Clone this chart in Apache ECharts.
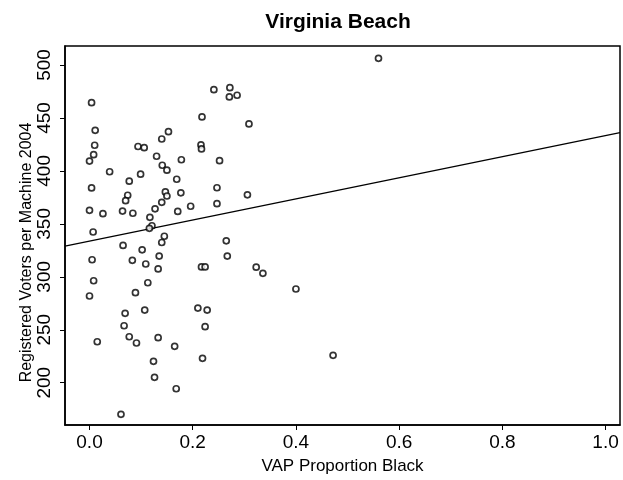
<!DOCTYPE html>
<html>
<head>
<meta charset="utf-8">
<title>Virginia Beach</title>
<script src="https://cdn.jsdelivr.net/npm/echarts@6/dist/echarts.min.js"></script>
<style>
  html, body { margin: 0; padding: 0; background: #ffffff; }
  #chart { width: 623px; height: 480px; }
</style>
</head>
<body>
<div id="chart"></div>
<script>
// Precinct data: share of voting-age population that is Black, and registered voters per machine (2004)
const vapBlack = [
  0.004, 0.011, 0.010, 0.008, 0.000, 0.039, 0.004, 0.000, 0.026, 0.007,
  0.094, 0.106, 0.077, 0.099, 0.074, 0.070, 0.064, 0.084, 0.140, 0.153,
  0.130, 0.141, 0.150, 0.178, 0.169, 0.147, 0.150, 0.140, 0.127, 0.117,
  0.121, 0.116, 0.145, 0.177, 0.171, 0.196, 0.218, 0.216, 0.217, 0.241,
  0.272, 0.271, 0.286, 0.309, 0.252, 0.247, 0.247, 0.306, 0.265, 0.560,
  0.140, 0.065, 0.102, 0.005, 0.083, 0.135, 0.109, 0.133, 0.267, 0.217,
  0.224, 0.323, 0.008, 0.113, 0.000, 0.089, 0.069, 0.107, 0.210, 0.228,
  0.067, 0.224, 0.015, 0.077, 0.091, 0.133, 0.165, 0.219, 0.124, 0.126,
  0.168, 0.061, 0.336, 0.400, 0.472
];
const votersPerMachine = [
  464.4, 438.3, 424.2, 415.3, 409.3, 399.2, 383.9, 362.8, 359.6, 342.3,
  423.0, 421.9, 390.3, 396.9, 377.0, 371.9, 362.1, 360.0, 430.1, 437.0,
  413.8, 405.3, 400.7, 410.5, 392.1, 380.1, 376.3, 370.3, 364.2, 356.2,
  348.2, 345.8, 338.3, 379.3, 361.7, 366.6, 450.9, 424.5, 420.7, 476.7,
  478.6, 469.8, 471.4, 444.3, 409.6, 384.1, 369.0, 377.4, 334.0, 506.3,
  332.4, 329.6, 325.5, 316.1, 315.6, 319.6, 312.1, 307.4, 319.6, 309.3,
  309.3, 309.1, 296.3, 294.4, 281.9, 285.0, 265.5, 268.6, 270.5, 268.6,
  253.8, 252.9, 238.7, 243.4, 237.5, 242.5, 234.4, 223.0, 220.2, 205.1,
  194.3, 170.2, 303.3, 288.5, 225.9
];

// Least-squares fit drawn across the plot
const fitIntercept = 333.8;
const fitSlope = 99.5;

const xTicks = [0, 0.2, 0.4, 0.6, 0.8, 1.0];
const yTicks = [200, 250, 300, 350, 400, 450, 500];

const xMin = -0.0475, xMax = 1.028;
const yMin = 160.1, yMax = 517.9;

const FONT = '"Liberation Sans", Arial, Helvetica, sans-serif';

const points = vapBlack.map((x, i) => [x, votersPerMachine[i]]);
const fitLine = [xMin, xMax].map(x => [x, fitIntercept + fitSlope * x]);

const chart = echarts.init(document.getElementById('chart'), null, { renderer: 'canvas' });

chart.setOption({
  animation: false,
  backgroundColor: '#ffffff',
  graphic: [{
    type: 'text',
    x: 338,
    y: 22,
    style: {
      text: 'Virginia Beach',
      font: 'bold 21px ' + FONT,
      fill: '#000',
      textAlign: 'center',
      textVerticalAlign: 'middle'
    }
  }],
  grid: {
    left: 65, right: 3, top: 46, bottom: 55,
    show: true,
    borderColor: '#000',
    borderWidth: 1.5,
    backgroundColor: 'transparent'
  },
  xAxis: {
    type: 'value',
    min: xMin,
    max: xMax,
    name: 'VAP Proportion Black',
    nameLocation: 'middle',
    nameGap: 33,
    nameMoveOverlap: false,
    nameTextStyle: { color: '#000', fontSize: 17, fontFamily: FONT },
    axisLine: { show: true, onZero: false, lineStyle: { color: '#000', width: 1.5 } },
    axisTick: { show: true, customValues: xTicks, length: 5, lineStyle: { color: '#000', width: 1 } },
    axisLabel: {
      customValues: xTicks,
      formatter: v => v.toFixed(1),
      color: '#000', fontSize: 19, fontFamily: FONT, margin: 8
    },
    splitLine: { show: false }
  },
  yAxis: {
    type: 'value',
    min: yMin,
    max: yMax,
    name: 'Registered Voters per Machine 2004',
    nameLocation: 'middle',
    nameGap: 30,
    nameMoveOverlap: false,
    nameTextStyle: { color: '#000', fontSize: 16, fontFamily: FONT, padding: [0, 34, 0, 0] },
    axisLine: { show: true, onZero: false, lineStyle: { color: '#000', width: 1.5 } },
    axisTick: { show: true, customValues: yTicks, length: 5, lineStyle: { color: '#000', width: 1 } },
    axisLabel: {
      customValues: yTicks,
      rotate: 90,
      color: '#000', fontSize: 19, fontFamily: FONT, margin: 11
    },
    splitLine: { show: false }
  },
  series: [
    {
      type: 'scatter',
      data: points,
      symbol: 'circle',
      symbolSize: 6,
      itemStyle: { color: '#ffffff', borderColor: '#000', borderWidth: 1.7 },
      silent: true
    },
    {
      type: 'line',
      data: fitLine,
      showSymbol: false,
      lineStyle: { color: '#000', width: 1.3 },
      silent: true,
      z: 1
    }
  ]
});
</script>
</body>
</html>
